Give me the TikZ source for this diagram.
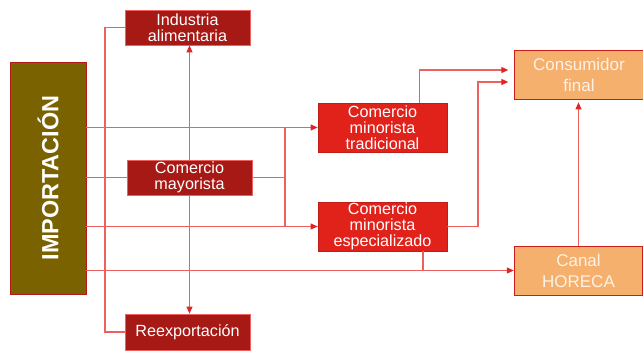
\documentclass[tikz,border=0pt]{standalone}
\usepackage{fontspec}
\setmainfont{Liberation Sans}
\usetikzlibrary{arrows.meta}
\definecolor{importolive}{RGB}{122,98,0}
\definecolor{wholesalered}{RGB}{167,25,20}
\definecolor{retailred}{RGB}{224,34,27}
\definecolor{finalorange}{RGB}{245,176,110}
\definecolor{finaltext}{RGB}{255,242,228}
\definecolor{linkred}{RGB}{236,96,96}
\definecolor{tipred}{RGB}{226,36,36}
\tikzstyle{channel}=[draw, line width=0.6pt, align=center, inner sep=0pt, font=\fontsize{13.8}{13.6}\selectfont]
\tikzstyle{import box}=[channel, fill=importolive, draw=retailred!80!black, text=white, rotate=90, minimum width=6.96cm, minimum height=2.28cm, font=\bfseries\fontsize{20}{22}\selectfont]
\tikzstyle{wholesale}=[channel, fill=wholesalered, draw=linkred, text=white, minimum width=3.75cm, minimum height=1.05cm]
\tikzstyle{retail}=[channel, fill=retailred, draw=retailred!85!black, text=white, minimum width=3.87cm, minimum height=1.47cm]
\tikzstyle{final}=[channel, fill=finalorange, draw=retailred!90!black, text=finaltext, minimum width=3.86cm, minimum height=1.47cm, font=\fontsize{14.5}{18}\selectfont]
\tikzstyle{link}=[draw=linkred, line width=0.9pt]
\tikzstyle{feed}=[link, -{Triangle[length=2.1mm, width=1.8mm, color=tipred]}]

\begin{document}
\begin{tikzpicture}[x=0.03cm, y=-0.03cm]
  \useasboundingbox (0,0) rectangle (643,363);
  \node[import box] (imp) at (48,178) {IMPORTACIÓN};
  \node[wholesale] (ind) at (187.5,27.5) {Industria\\alimentaria};
  \node[wholesale] (may) at (189.5,177.5) {Comercio\\mayorista};
  \node[wholesale, minimum height=1.08cm] (reex) at (187.5,332) {Reexportación};
  \node[retail] (trad) at (382.5,127.5) {Comercio\\minorista\\tradicional};
  \node[retail] (esp) at (382.5,226.5) {Comercio\\minorista\\especializado};
  \node[final] (cons) at (579,74.5) {Consumidor\\final};
  \node[final] (hor) at (578.5,270.5) {Canal\\HORECA};

  \coordinate (bus) at (105,0);
  \coordinate (split) at (285,0);
  \coordinate (rise) at (478,0);

  \draw[link] (ind.west) -- (ind.west -| bus) -- (reex.west -| bus) -- (reex.west);
  \draw[feed] (imp.south |- trad.west) -- (trad.west);
  \draw[link] (imp.south |- may.west) -- (may.west);
  \draw[link] (may.east) -- (may.east -| split);
  \draw[link] (split |- trad.west) -- (split |- esp.west);
  \draw[feed] (imp.south |- esp.west) -- (esp.west);
  \draw[feed] (imp.south |- hor.west) -- (hor.west);
  \draw[feed] (may.north) -- (may.north |- ind.south);
  \draw[feed] (may.south) -- (may.south |- reex.north);
  \draw[feed, shorten >=0.18cm] ([xshift=1.11cm]trad.north) |- ([yshift=0.135cm]cons.west);
  \draw[feed, shorten >=0.18cm] (esp.east) -- (esp.east -| rise) |- ([yshift=-0.225cm]cons.west);
  \draw[link] ([xshift=1.215cm]esp.south) -- ([xshift=1.215cm]esp.south |- hor.west);
  \draw[feed, shorten >=0.09cm] (hor.north) -- (hor.north |- cons.south);
\end{tikzpicture}
\end{document}
